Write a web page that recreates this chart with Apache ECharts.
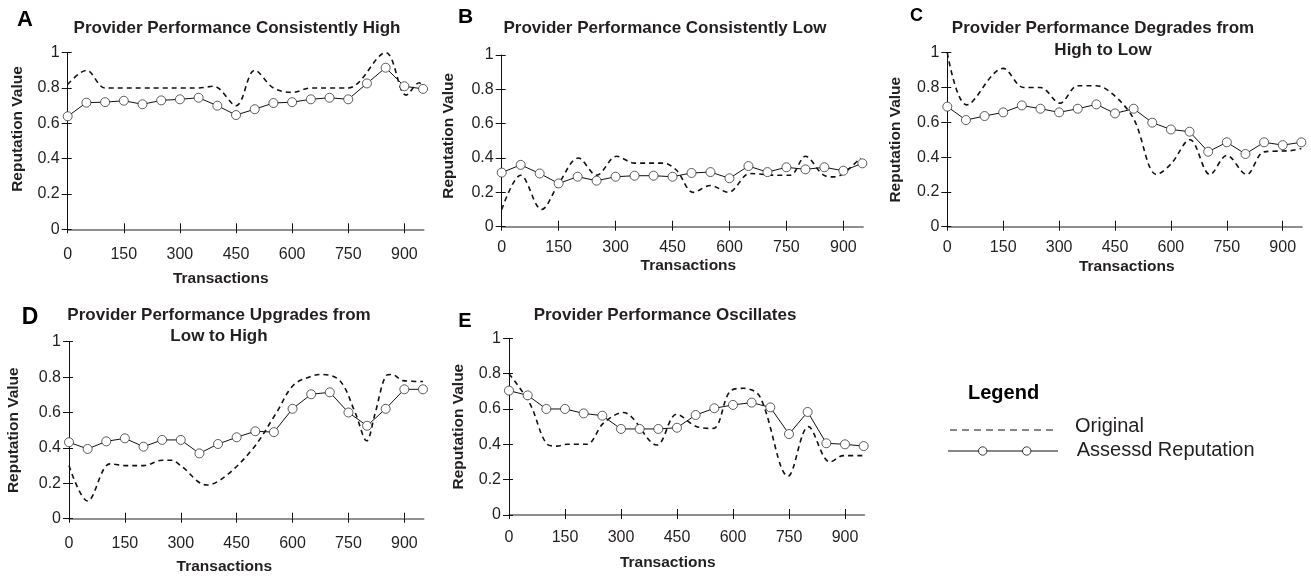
<!DOCTYPE html>
<html>
<head>
<meta charset="utf-8">
<script src="https://cdn.jsdelivr.net/npm/echarts@6/dist/echarts.min.js"></script>
<style>
html,body{margin:0;padding:0;background:#fff;}
#chart{width:1311px;height:578px;}
</style>
</head>
<body>
<div id="chart"></div>
<script>
// ---------------- DATA ----------------
const transactions = [0,50,100,150,200,250,300,350,400,450,500,550,600,650,700,750,800,850,900,950];
const xTickValues = [0,150,300,450,600,750,900];

const assessedA = [0.64,0.717,0.72,0.728,0.708,0.73,0.736,0.745,0.70,0.647,0.68,0.715,0.72,0.736,0.745,0.736,0.826,0.915,0.81,0.795];
const assessedB = [0.315,0.36,0.31,0.252,0.291,0.268,0.291,0.297,0.297,0.291,0.313,0.318,0.282,0.353,0.318,0.346,0.334,0.346,0.326,0.369];
const assessedC = [0.69,0.613,0.636,0.657,0.697,0.678,0.657,0.678,0.703,0.651,0.678,0.598,0.559,0.546,0.431,0.485,0.418,0.485,0.469,0.485];
const assessedD = [0.432,0.394,0.437,0.454,0.407,0.445,0.445,0.369,0.422,0.46,0.494,0.489,0.621,0.703,0.714,0.60,0.525,0.621,0.731,0.731];
const assessedE = [0.704,0.677,0.60,0.60,0.575,0.562,0.487,0.487,0.487,0.494,0.566,0.604,0.623,0.636,0.609,0.458,0.583,0.406,0.40,0.39];

const originalA = [[0,0.82],[50,0.9],[100,0.8],[150,0.8],[200,0.8],[250,0.8],[300,0.8],[350,0.8],[390,0.81],[450,0.7],[500,0.9],[550,0.8],[600,0.775],[650,0.8],[700,0.8],[750,0.8],[850,1.0],[905,0.76],[940,0.83],[950,0.8]];
const originalB = [[0,0.1],[50,0.3],[105,0.1],[150,0.25],[202,0.4],[250,0.3],[303,0.41],[350,0.37],[425,0.37],[460,0.33],[505,0.2],[550,0.24],[597,0.2],[654,0.31],[720,0.3],[760,0.3],[800,0.41],[848,0.3],[875,0.29],[900,0.31],[945,0.4]];
const originalC = [[0,1.0],[52,0.7],[150,0.91],[205,0.8],[250,0.8],[302,0.71],[350,0.81],[400,0.81],[445,0.76],[500,0.62],[562,0.3],[600,0.36],[651,0.5],[705,0.3],[750,0.41],[803,0.3],[850,0.43],[920,0.437],[950,0.45]];
const originalD = [[0,0.3],[50,0.1],[110,0.31],[150,0.3],[200,0.3],[250,0.33],[275,0.33],[300,0.3],[370,0.19],[420,0.24],[495,0.4],[557,0.6],[602,0.754],[651,0.805],[678,0.815],[727,0.78],[768,0.6],[799,0.44],[821,0.59],[852,0.81],[866,0.815],[897,0.78],[950,0.775]];
const originalE = [[0,0.8],[56,0.63],[100,0.405],[128,0.39],[155,0.4],[208,0.4],[253,0.52],[306,0.58],[396,0.396],[449,0.57],[503,0.5],[547,0.49],[592,0.70],[628,0.717],[672,0.67],[748,0.22],[802,0.5],[860,0.3],[896,0.336],[949,0.336]];

const panelLetters = ['A','B','C','D','E'];
const panelTitles = [
  'Provider Performance Consistently High',
  'Provider Performance Consistently Low',
  'Provider Performance Degrades from\nHigh to Low',
  'Provider Performance Upgrades from\nLow to High',
  'Provider Performance Oscillates'
];
const yAxisTitle = 'Reputation Value';
const xAxisTitle = 'Transactions';
const legendTitle = 'Legend';
const seriesNames = ['Original','Assessd Reputation'];

// ---------------- LAYOUT / STYLE ----------------
const FONT = '"Liberation Sans", Arial, Helvetica, sans-serif';
const TXT = '#231f20';
const layout = [
  {grid:{left:67.7, top:52.7, width:356.1, height:176.6}, letter:{x:25, y:7, size:22}, title:{x:237, y:18, lh:20}, yGap:42, yPad:[0,0,0,24], xMargin:17, xGap:41, xPad:[0,50,0,0]},
  {grid:{left:501.7, top:55, width:361.4, height:171.7}, letter:{x:465.5, y:5, size:21}, title:{x:665, y:18, lh:20}, yGap:45, yPad:[0,0,0,10], xMargin:13, xGap:31, xPad:[0,0,0,12]},
  {grid:{left:947.3, top:52.7, width:354.8, height:174}, letter:{x:916.5, y:5, size:18}, title:{x:1103, y:17, lh:22}, yGap:44, yPad:[0,0,0,0], xMargin:13, xGap:32, xPad:[0,0,0,4]},
  {grid:{left:69, top:341.7, width:354.7, height:177}, letter:{x:30, y:304, size:23}, title:{x:219, y:304, lh:21.7}, yGap:47, yPad:[0,0,0,0], xMargin:17, xGap:40, xPad:[0,44,0,0]},
  {grid:{left:509, top:338.3, width:355.4, height:176.7}, letter:{x:465, y:309, size:20}, title:{x:665, y:305, lh:20}, yGap:42, yPad:[0,0,0,0], xMargin:15, xGap:40, xPad:[0,38,0,0]}
];
const assessedAll = [assessedA, assessedB, assessedC, assessedD, assessedE];
const originalAll = [originalA, originalB, originalC, originalD, originalE];

const grids = [], xAxes = [], yAxes = [], series = [], titles = [];
layout.forEach((L, i) => {
  grids.push(Object.assign({containLabel:false, outerBoundsMode:'none'}, L.grid));
  titles.push({
    text: panelLetters[i], left: L.letter.x, top: L.letter.y, textAlign:'center', padding:0,
    textStyle:{fontFamily:FONT, fontWeight:'bold', fontSize:L.letter.size, color:'#000', lineHeight:L.letter.size+4}
  });
  titles.push({
    text: panelTitles[i], left: L.title.x, top: L.title.y, textAlign:'center', padding:0,
    textStyle:{fontFamily:FONT, fontWeight:'bold', fontSize:17, color:TXT, lineHeight:L.title.lh}
  });
  xAxes.push({
    gridIndex:i, type:'value', position:'bottom', min:0, max:952,
    name: xAxisTitle, nameLocation:'middle', nameGap:L.xGap,
    nameTextStyle:{fontFamily:FONT, fontWeight:'bold', fontSize:15.5, color:TXT, padding:L.xPad},
    axisLine:{show:true, onZero:false, lineStyle:{color:'#6b6b6b', width:1.6}},
    axisTick:{show:true, inside:false, length:4, customValues:xTickValues, lineStyle:{color:'#111', width:1}},
    axisLabel:{show:true, margin:L.xMargin, customValues:xTickValues, fontFamily:FONT, fontSize:16, color:TXT},
    splitLine:{show:false}
  });
  xAxes.push({
    gridIndex:i, type:'value', position:'bottom', min:0, max:952,
    axisLine:{show:false}, axisLabel:{show:false}, splitLine:{show:false},
    axisTick:{show:true, inside:true, length:6, customValues:xTickValues, lineStyle:{color:'#111', width:1}}
  });
  yAxes.push({
    gridIndex:i, type:'value', position:'left', min:0, max:1, interval:0.2,
    name: yAxisTitle, nameLocation:'middle', nameGap:L.yGap,
    nameTextStyle:{fontFamily:FONT, fontWeight:'bold', fontSize:15.5, color:TXT, padding:L.yPad},
    axisLine:{show:true, onZero:false, lineStyle:{color:'#111', width:1}},
    axisTick:{show:true, inside:false, length:6, lineStyle:{color:'#111', width:1}},
    axisLabel:{show:true, margin:8, fontFamily:FONT, fontSize:16, color:TXT},
    splitLine:{show:false}
  });
  yAxes.push({
    gridIndex:i, type:'value', position:'left', min:0, max:1, interval:0.2,
    axisLine:{show:false}, axisLabel:{show:false}, splitLine:{show:false},
    axisTick:{show:true, inside:true, length:4, lineStyle:{color:'#111', width:1}}
  });
  series.push({
    name: seriesNames[0], type:'line', xAxisIndex:2*i, yAxisIndex:2*i,
    data: originalAll[i], smooth:0.35, showSymbol:false, symbol:'none',
    lineStyle:{color:'#111', width:1.6, type:[5,4]}, z:2, silent:true
  });
  series.push({
    name: seriesNames[1], type:'line', xAxisIndex:2*i, yAxisIndex:2*i,
    data: transactions.map((t, k) => [t, assessedAll[i][k]]),
    symbol:'circle', symbolSize:9, showSymbol:true,
    lineStyle:{color:'#111', width:1},
    itemStyle:{color:'#fff', borderWidth:0.8, borderColor:'#333'},
    z:3, silent:true
  });
});

const legendGraphic = {
  type:'group', children:[
    {type:'text', left:968, top:383, style:{text:legendTitle, font:'bold 20px '+FONT, fill:'#000'}},
    {type:'line', shape:{x1:950, y1:430, x2:1058, y2:430}, style:{stroke:'#111', lineWidth:1.2, lineDash:[7,5]}},
    {type:'text', left:1075, top:416, style:{text:seriesNames[0], font:'20px '+FONT, fill:TXT}},
    {type:'line', shape:{x1:948, y1:451, x2:1058, y2:451}, style:{stroke:'#111', lineWidth:1.2}},
    {type:'circle', shape:{cx:982.7, cy:451, r:4.2}, style:{fill:'#fff', stroke:'#222', lineWidth:0.9}},
    {type:'circle', shape:{cx:1026.7, cy:451, r:4.2}, style:{fill:'#fff', stroke:'#222', lineWidth:0.9}},
    {type:'text', left:1076.7, top:440, style:{text:seriesNames[1], font:'20px '+FONT, fill:TXT}}
  ]
};

const chart = echarts.init(document.getElementById('chart'), null, {renderer:'canvas', width:1311, height:578});
chart.setOption({
  animation:false,
  backgroundColor:'#fff',
  title: titles,
  grid: grids,
  xAxis: xAxes,
  yAxis: yAxes,
  series: series,
  graphic: [legendGraphic]
});
</script>
</body>
</html>
